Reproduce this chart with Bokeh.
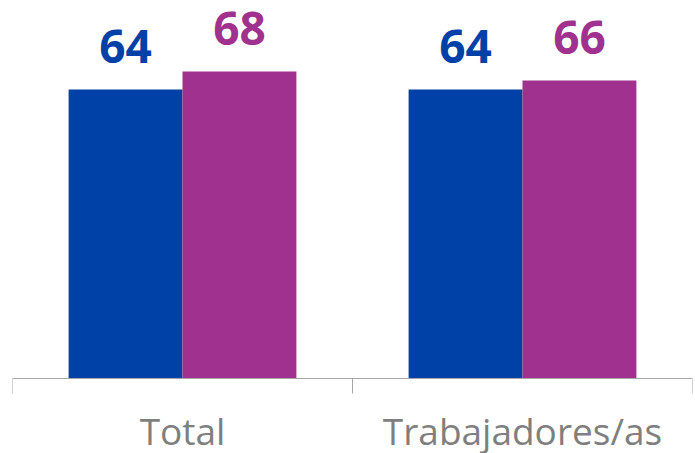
import math
from bokeh.plotting import figure
from bokeh.models import ColumnDataSource, Range1d, LabelSet, Span
from bokeh.core.properties import value
from bokeh.transform import dodge
from bokeh.embed import file_html
from bokeh.resources import INLINE

categories = ["Total", "Trabajadores/as"]
series_a = [64, 64]
series_b = [68, 66]

blue = "#0041A8"
purple = "#A0318E"
gray_axis = "#A6A6A6"
gray_text = "#7F7F7F"

n = len(categories)
centers = [i + 0.5 for i in range(n)]
edges = list(range(n + 1))
src = ColumnDataSource(dict(x=centers, cat=categories, base=[0] * n,
                            a=series_a, b=series_b,
                            a_lbl=[str(v) for v in series_a],
                            b_lbl=[str(v) for v in series_b]))
edge_src = ColumnDataSource(dict(x=edges, y=[0] * len(edges)))

# y range extends below zero so the category labels sit inside the plot area
p = figure(x_range=Range1d(0, n), y_range=Range1d(-16.6, 83.7),
           width=695, height=453, output_backend="svg", toolbar_location=None,
           x_axis_location=None, y_axis_location=None,
           min_border_left=12, min_border_right=3, min_border_top=0, min_border_bottom=0)
p.outline_line_color = None
p.xgrid.visible = False
p.ygrid.visible = False
p.background_fill_color = "white"
p.border_fill_color = "white"

off = 0.1675
w = 0.335
p.vbar(x=dodge("x", -off), top="a", bottom=0, width=w, source=src,
       fill_color=blue, line_color=None)
p.vbar(x=dodge("x", off), top="b", bottom=0, width=w, source=src,
       fill_color=purple, line_color=None)

# baseline (category axis line) and tick marks at category boundaries
p.add_layout(Span(location=0, dimension="width", line_color=gray_axis, line_width=1))
p.ray(x="x", y="y", length=15, length_units="screen", angle=-math.pi / 2,
      source=edge_src, line_color=gray_axis, line_width=1)

for col, lbl, dx, color in [("a", "a_lbl", -off, blue), ("b", "b_lbl", off, purple)]:
    ls = LabelSet(x=dodge("x", dx), y=col, text=lbl, source=src,
                  y_offset=26, text_align="center", text_baseline="alphabetic",
                  text_font=value("Open Sans"), text_font_style="bold",
                  text_font_size="46px", text_color=color)
    p.add_layout(ls)

# category labels below the baseline
cat_labels = LabelSet(x="x", y="base", text="cat", source=src, y_offset=-66,
                      text_align="center", text_baseline="alphabetic",
                      text_font=value("Open Sans"), text_font_size="37px",
                      text_color=gray_text)
p.add_layout(cat_labels)

open("out.html", "w").write(file_html(p, INLINE))
